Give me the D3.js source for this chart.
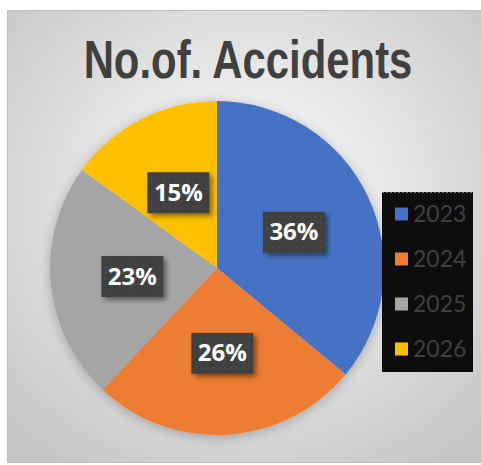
<!DOCTYPE html>
<html>
<head>
<meta charset="utf-8">
<title>No.of. Accidents</title>
<style>
  body { margin: 0; background: #fff; }
  svg { display: block; }
  .title { font: bold 53px "Liberation Sans Narrow", "Liberation Sans", sans-serif; fill: #404040; }
  .lbl { font: bold 24px "Open Sans", sans-serif; fill: #fff; }
  .legend text { font: 23px Lato, sans-serif; fill: #404040; }
</style>
</head>
<body>
<svg width="481" height="465"></svg>
<script src="https://cdn.jsdelivr.net/npm/d3@7"></script>
<script>
var years = ["2023", "2024", "2025", "2026"];
var values = [36, 26, 23, 15];
var colors = ["#4472c4", "#ed7d31", "#a5a5a5", "#ffc000"];

var svg = d3.select("svg");
var defs = svg.append("defs");

var bg = defs.append("radialGradient").attr("id", "bg")
  .attr("cx", "50%").attr("cy", "42%").attr("r", "70%");
bg.append("stop").attr("offset", "0%").attr("stop-color", "#ffffff");
bg.append("stop").attr("offset", "100%").attr("stop-color", "#c6c6c6");

var dots = defs.append("pattern").attr("id", "dots")
  .attr("width", 6).attr("height", 6).attr("patternUnits", "userSpaceOnUse");
dots.append("rect").attr("width", 6).attr("height", 6).attr("fill", "#3f3f3f");
dots.append("circle").attr("cx", 3).attr("cy", 3).attr("r", 0.9).attr("fill", "#4d4d4d");

var sh = defs.append("filter").attr("id", "shadow")
  .attr("x", "-30%").attr("y", "-30%").attr("width", "160%").attr("height", "160%");
sh.append("feDropShadow").attr("dx", 3).attr("dy", 3).attr("stdDeviation", 2.5)
  .attr("flood-color", "#000").attr("flood-opacity", 0.45);

var psh = defs.append("filter").attr("id", "pieShadow")
  .attr("x", "-20%").attr("y", "-20%").attr("width", "140%").attr("height", "140%");
psh.append("feDropShadow").attr("dx", 0).attr("dy", 2).attr("stdDeviation", 6)
  .attr("flood-color", "#000").attr("flood-opacity", 0.25);

// chart area
svg.append("rect").attr("x", 7.5).attr("y", 10.5).attr("width", 480).attr("height", 452)
  .attr("fill", "url(#bg)").attr("stroke", "#c0c0c0");

// no narrow font installed, so squeeze the bold face horizontally
svg.append("text").attr("class", "title")
  .attr("transform", "translate(248,78) scale(0.79,1)")
  .attr("text-anchor", "middle")
  .text("No.of. Accidents");

var R = 167;
var g = svg.append("g").attr("transform", "translate(217,268)");

var pie = d3.pie().sort(null);
var arcs = pie(values);
var arc = d3.arc().innerRadius(0).outerRadius(R);
var labelArc = d3.arc().innerRadius(0).outerRadius(170);

g.append("g").attr("filter", "url(#pieShadow)")
  .selectAll("path")
  .data(arcs)
  .enter().append("path")
  .attr("d", arc)
  .attr("fill", function(d, i) { return colors[i]; });

var total = d3.sum(values);
var lbl = g.selectAll("g.l")
  .data(arcs)
  .enter().append("g")
  .attr("class", "l")
  .attr("transform", function(d) { return "translate(" + labelArc.centroid(d) + ")"; });

lbl.append("rect")
  .attr("x", -31).attr("y", -20).attr("width", 62).attr("height", 41)
  .attr("fill", "url(#dots)")
  .attr("filter", "url(#shadow)");

lbl.append("text").attr("class", "lbl")
  .attr("text-anchor", "middle").attr("dy", "0.36em")
  .text(function(d) { return Math.round(d.data / total * 100) + "%"; });

// legend
var legend = svg.append("g").attr("class", "legend");
legend.append("rect").attr("x", 382).attr("y", 192).attr("width", 91).attr("height", 180)
  .attr("fill", "#0d0d0d");
legend.append("line").attr("x1", 382).attr("x2", 473).attr("y1", 192.5).attr("y2", 192.5)
  .attr("stroke", "#777").attr("stroke-dasharray", "2,2");

var y = d3.scalePoint().domain(years).range([214, 349]);

var item = legend.selectAll("g.item")
  .data(years)
  .enter().append("g")
  .attr("class", "item")
  .attr("transform", function(d) { return "translate(395," + y(d) + ")"; });

item.append("rect").attr("x", 0).attr("y", -6.5).attr("width", 13).attr("height", 13)
  .attr("fill", function(d, i) { return colors[i]; });
item.append("text").attr("x", 18).attr("dy", "0.36em").text(function(d) { return d; });
</script>
</body>
</html>
